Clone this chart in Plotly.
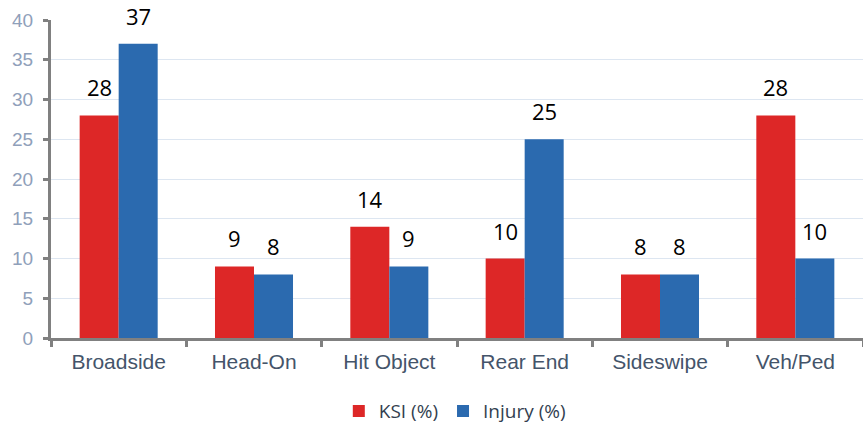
import plotly.graph_objects as go

categories = ["Broadside", "Head-On", "Hit Object", "Rear End", "Sideswipe", "Veh/Ped"]
ksi = [28, 9, 14, 10, 8, 28]
injury = [37, 8, 9, 25, 8, 10]
y_ticks = [0, 5, 10, 15, 20, 25, 30, 35, 40]

RED = "#DD2727"
BLUE = "#2B6AAF"

fig = go.Figure()
fig.add_bar(x=categories, y=ksi, name="KSI (%)", marker=dict(color=RED, line=dict(width=0)))
fig.add_bar(x=categories, y=injury, name="Injury (%)", marker=dict(color=BLUE, line=dict(width=0)))

annotations = []
for series, shift in ((ksi, -19.5), (injury, 19.5)):
    for c, v in zip(categories, series):
        annotations.append(dict(x=c, y=v, xref="x", yref="y", text=str(v), showarrow=False,
                                xshift=shift, yshift=11, yanchor="bottom",
                                font=dict(size=22, color="#000000", family="Open Sans")))

fig.update_layout(
    width=863, height=423,
    margin=dict(l=51, r=0, t=20, b=85),
    barmode="group", bargap=0.4235, bargroupgap=0,
    plot_bgcolor="white", paper_bgcolor="white",
    font=dict(family="Liberation Sans, Arial", size=17),
    annotations=annotations,
    legend=dict(orientation="h", x=0.527, xanchor="center", xref="container",
                y=0.028, yanchor="middle", yref="container",
                font=dict(size=19, color="#333F50", family="Open Sans"),
                itemwidth=30, traceorder="normal"),
    showlegend=True,
)
fig.update_xaxes(showline=True, linecolor="#808080", linewidth=3,
                 ticks="outside", tickson="boundaries", ticklen=6, tickwidth=3, tickcolor="#808080",
                 ticklabelstandoff=3,
                 tickfont=dict(size=21, color="#44546A"), showgrid=False)
fig.update_yaxes(range=[0, 40], tickvals=y_ticks, showline=True, linecolor="#808080", linewidth=3,
                 ticks="outside", ticklen=5, tickwidth=3, tickcolor="#808080",
                 ticklabelstandoff=6,
                 tickfont=dict(size=19, color="#8FA0BA"),
                 showgrid=True, gridcolor="#DDE6F1", gridwidth=1, zeroline=False)

fig.write_html("out.html", config={"displayModeBar": False},
               post_script="document.body.style.margin='0px';")
